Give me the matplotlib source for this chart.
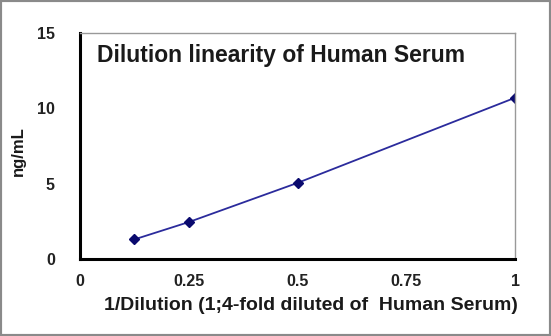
import matplotlib
matplotlib.use("Agg")
from matplotlib import pyplot as plt
from matplotlib.patches import Rectangle

# 稀释线性数据
dilution = [0.125, 0.25, 0.5, 1.0]
conc = [1.3, 2.45, 5.05, 10.7]
xticks = [0, 0.25, 0.5, 0.75, 1]
xtick_labels = ["0", "0.25", "0.5", "0.75", "1"]
yticks = [0, 5, 10, 15]

plt.rcParams['font.family'] = ['Liberation Sans', 'DejaVu Sans']
plt.rcParams['font.weight'] = 'bold'

fig = plt.figure(figsize=(5.51, 3.36), dpi=100)
ax = fig.add_axes([80/551, 1-259/336, 435/551, 226/336])

ax.plot(dilution, conc, color="#2b2b9c", lw=1.3, marker="D", ms=5,
        mfc="#0a0a6e", mec="#0a0a6e")

ax.set_xlim(0, 1)
ax.set_ylim(0, 15)
ax.set_xticks(xticks)
ax.set_xticklabels(xtick_labels)
ax.set_yticks(yticks)
ax.tick_params(length=0, labelsize=11.5, colors="#222222")
ax.tick_params(axis="x", pad=11)
ax.tick_params(axis="y", pad=18)

for s in ["left", "bottom"]:
    ax.spines[s].set_linewidth(2.2)
    ax.spines[s].set_color("black")
for s in ["top", "right"]:
    ax.spines[s].set_linewidth(1)
    ax.spines[s].set_color("#999999")

ax.text(0.04, 0.95, "Dilution linearity of Human Serum", transform=ax.transAxes,
        fontsize=16.5, fontweight="bold", va="top", ha="left", color="#1a1a1a")

ax.set_xlabel("1/Dilution (1;4-fold diluted of  Human Serum)", fontsize=14,
              fontweight="bold", color="#1a1a1a")
ax.xaxis.set_label_coords(0.53, -0.17)
ax.set_ylabel("ng/mL", fontsize=12, fontweight="bold", color="#1a1a1a")
ax.yaxis.set_label_coords(-0.125, 0.478)

# 外边框
fig.patches.append(Rectangle((0, 0), 1, 1, transform=fig.transFigure,
                             fill=False, ec="#8a8a8a", lw=3))

fig.savefig("out.png", dpi=100)
